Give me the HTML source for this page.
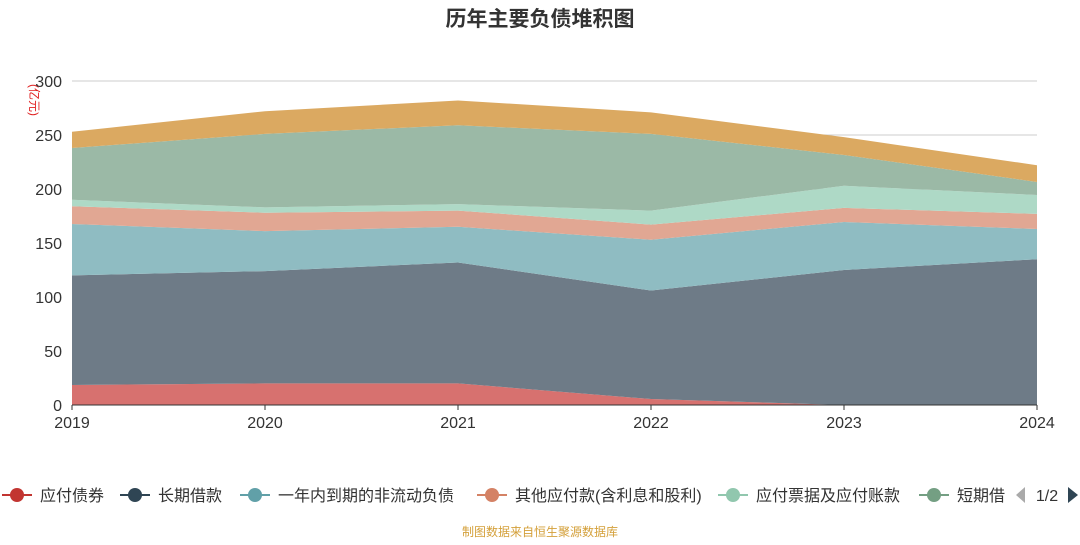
<!DOCTYPE html>
<html><head><meta charset="utf-8"><style>
body{margin:0;background:#fff;font-family:"Liberation Sans","Noto Sans CJK SC",sans-serif}
svg text{font-family:"Liberation Sans","Noto Sans CJK SC",sans-serif}
</style></head><body>
<svg id="c" width="1080" height="540">
<text x="540" y="26" text-anchor="middle" font-size="21" font-weight="bold" fill="#333">历年主要负债堆积图</text>
<text transform="translate(30,100) rotate(90)" text-anchor="middle" font-size="12" fill="#e02020">(亿元)</text>
<g id="grid"></g><g id="areas"></g><g id="axes"></g><g id="legend"></g>
<text x="540" y="536" text-anchor="middle" font-size="12" fill="#d4a03a">制图数据来自恒生聚源数据库</text>
</svg>
<script>
const years=["2019","2020","2021","2022","2023","2024"];
const yTicks=[0,50,100,150,200,250,300];
const names=["应付债券","长期借款","一年内到期的非流动负债","其他应付款(含利息和股利)","应付票据及应付账款","短期借款","其他"];
const s1=[18.5,20,20,5.5,0,0];
const s2=[101.5,104,112,100.5,125,135];
const s3=[47.6,37,33,47,44.5,28];
const s4=[16.4,17,15,14,13,14];
const s5=[6,5,6,13,20.5,17.5];
const s6=[48,68,73,71,28.5,12];
const s7=[15,21,23,20,16.5,15.5];
const series=[s1,s2,s3,s4,s5,s6,s7];
const fills=["#d7716f","#6e7b87","#8fbcc2","#e1a793","#aed9c6","#9bb9a6","#dba961"];
const dots=["#c23531","#2f4554","#61a0a8","#d48265","#91c7ae","#749f83"];
const NS="http://www.w3.org/2000/svg";
const X=i=>72+i*193, Y=v=>405-v*1.08;
function mk(t,a,p){const e=document.createElementNS(NS,t);for(const k in a)e.setAttribute(k,a[k]);p.appendChild(e);return e;}
const grid=document.getElementById('grid'),axes=document.getElementById('axes'),areas=document.getElementById('areas'),lg=document.getElementById('legend');
yTicks.forEach(t=>{
 const l=mk('line',{x1:72,x2:1037,y1:Y(t),y2:Y(t),stroke:'#ccc'},grid);
 
 
 const tx=mk('text',{x:62,y:Y(t)+6,'text-anchor':'end','font-size':16,fill:'#333'},axes);tx.textContent=t;
 
 
});
let base=years.map(()=>0);
series.forEach((s,k)=>{
 const top=base.map((b,i)=>b+s[i]);
 let d='M'+years.map((_,i)=>X(i)+','+Y(top[i])).join('L');
 for(let i=years.length-1;i>=0;i--)d+='L'+X(i)+','+Y(base[i]);
 const p=mk('path',{d:d+'Z',fill:fills[k]},areas);
 
 
 base=top;
});
mk('line',{x1:72,x2:1037,y1:405,y2:405,stroke:'#333'},axes);
years.forEach((y,i)=>{
 mk('line',{x1:X(i),x2:X(i),y1:405,y2:410,stroke:'#333'},axes);
 const t=mk('text',{x:X(i),y:428,'text-anchor':'middle','font-size':16,fill:'#333'},axes);t.textContent=y;
 
 
});
const lx=[2,120,240,477,718,919], labels=["应付债券","长期借款","一年内到期的非流动负债","其他应付款(含利息和股利)","应付票据及应付账款","短期借"];
labels.forEach((n,k)=>{
 const g=mk('g',{},lg);
 
 
 mk('line',{x1:lx[k],x2:lx[k]+30,y1:495,y2:495,stroke:dots[k],'stroke-width':2},g);
 mk('circle',{cx:lx[k]+15,cy:495,r:7,fill:dots[k]},g);
 const t=mk('text',{x:lx[k]+38,y:501,'font-size':16,fill:'#333'},g);t.textContent=n;
});
const pl=mk('path',{d:'M1025,487L1016,495L1025,503Z',fill:'#aaa'},lg);


const pt=mk('text',{x:1047,y:501,'text-anchor':'middle','font-size':16,fill:'#333'},lg);pt.textContent='1/2';


const pn=mk('path',{d:'M1068,487L1078,495L1068,503Z',fill:'#2f4554'},lg);


</script>
</body></html>
